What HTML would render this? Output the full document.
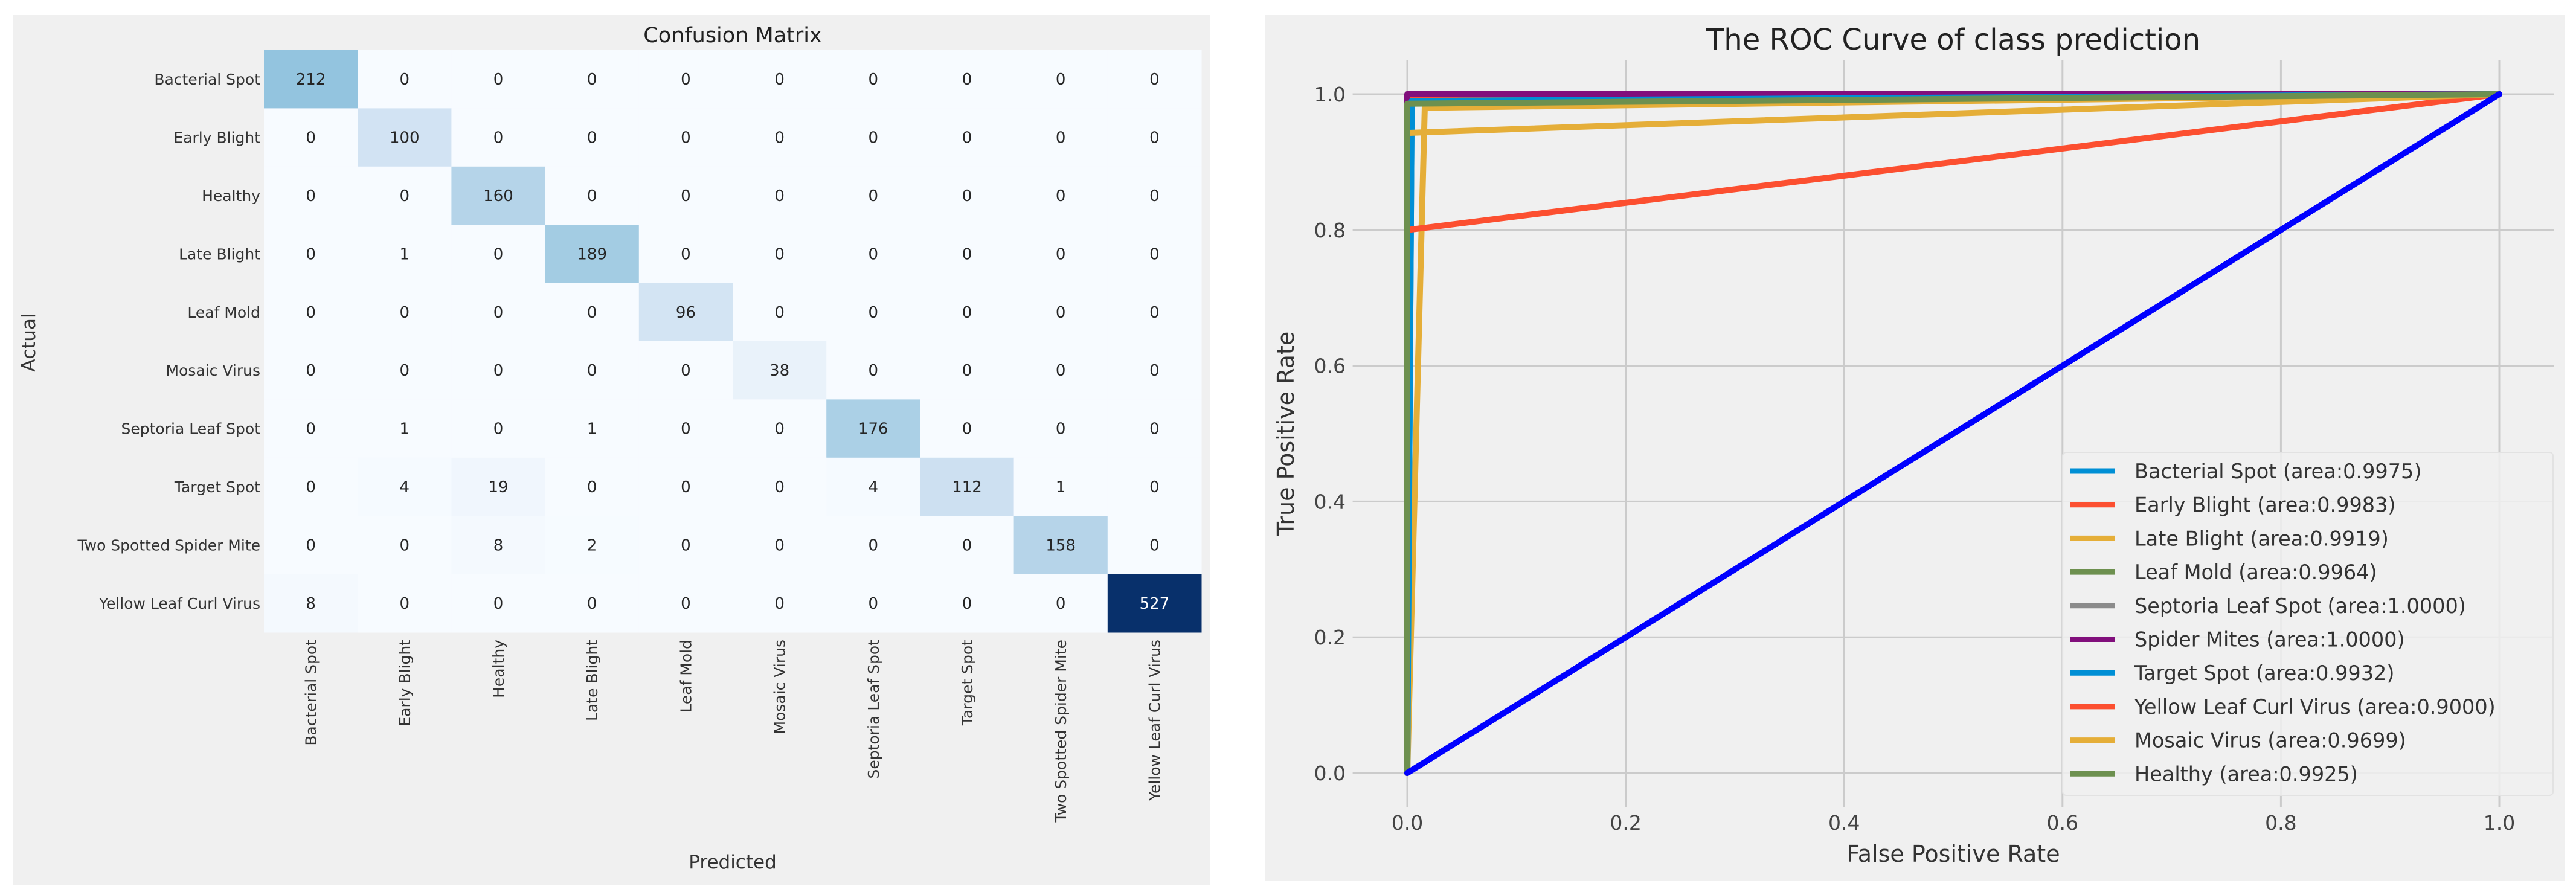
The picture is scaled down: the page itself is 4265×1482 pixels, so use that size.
<!DOCTYPE html>
<html><head><meta charset="utf-8"><style>
html,body{margin:0;padding:0;background:#fff;}
svg{display:block;font-family:"DejaVu Sans","Liberation Sans",sans-serif;}
</style></head><body>
<svg id="fig" xmlns="http://www.w3.org/2000/svg" width="4265" height="1482" viewBox="0 0 4265 1482">
<rect x="0" y="0" width="4265" height="1482" fill="#ffffff"/>
<g id="cm">
<rect x="22" y="25" width="1982" height="1440" fill="#f0f0f0"/>
<text x="1213" y="70" font-size="35" text-anchor="middle" fill="#222">Confusion Matrix</text>
<text x="1213" y="1438" font-size="31" text-anchor="middle" fill="#333">Predicted</text>
<text transform="translate(58,567) rotate(-90)" font-size="31" text-anchor="middle" fill="#333">Actual</text>
<g id="cells"></g>
</g>
<g id="roc">
<rect x="2094" y="25" width="2152" height="1433" fill="#f0f0f0"/>
<text x="3234" y="82" font-size="48" text-anchor="middle" fill="#222">The ROC Curve of class prediction</text>
<text x="3234" y="1427" font-size="38" text-anchor="middle" fill="#333">False Positive Rate</text>
<text transform="translate(2142,718) rotate(-90)" font-size="38" text-anchor="middle" fill="#333">True Positive Rate</text>
<g id="grid"></g>
<g id="curves"></g>
<g id="legend"></g>
</g>
</svg>
<script>
const classes = ["Bacterial Spot","Early Blight","Healthy","Late Blight","Leaf Mold","Mosaic Virus","Septoria Leaf Spot","Target Spot","Two Spotted Spider Mite","Yellow Leaf Curl Virus"];
const matrix = [
[212,0,0,0,0,0,0,0,0,0],
[0,100,0,0,0,0,0,0,0,0],
[0,0,160,0,0,0,0,0,0,0],
[0,1,0,189,0,0,0,0,0,0],
[0,0,0,0,96,0,0,0,0,0],
[0,0,0,0,0,38,0,0,0,0],
[0,1,0,1,0,0,176,0,0,0],
[0,4,19,0,0,0,4,112,1,0],
[0,0,8,2,0,0,0,0,158,0],
[8,0,0,0,0,0,0,0,0,527]];

const rocLabels = ["Bacterial Spot (area:0.9975)","Early Blight (area:0.9983)","Late Blight (area:0.9919)","Leaf Mold (area:0.9964)","Septoria Leaf Spot (area:1.0000)","Spider Mites (area:1.0000)","Target Spot (area:0.9932)","Yellow Leaf Curl Virus (area:0.9000)","Mosaic Virus  (area:0.9699)","Healthy (area:0.9925)"];
const rocColors = ["#008fd5","#fc4f30","#e5ae38","#6d904f","#8b8b8b","#810f7c","#008fd5","#fc4f30","#e5ae38","#6d904f"];
const rocFpr = [[0,0.004,1],[0,0.002,1],[0,0.016,1],[0,0.0,1],[0,0,1],[0,0,1],[0,0.004,1],[0,0,1],[0,0,1],[0,0,1]];
const rocTpr = [[0,0.994,1],[0,0.997,1],[0,0.98,1],[0,0.99,1],[0,1,1],[0,1,1],[0,0.99,1],[0,0.8,1],[0,0.943,1],[0,0.986,1]];
const diagFpr = [0,1];
const diagTpr = [0,1];
const xTicks = [0,0.2,0.4,0.6,0.8,1.0];
const yTicks = [0,0.2,0.4,0.6,0.8,1.0];

const NS = "http://www.w3.org/2000/svg";
function mk(tag, attrs, parent){const e=document.createElementNS(NS,tag);for(const k in attrs)e.setAttribute(k,attrs[k]);parent.appendChild(e);return e;}

const hx0=437,hx1=1989,hy0=83,hy1=1047;
const cw=(hx1-hx0)/classes.length, ch=(hy1-hy0)/classes.length;
const stops=["#f7fbff","#deebf7","#c6dbef","#9ecae1","#6baed6","#4292c6","#2171b5","#08519c","#08306b"];
function hex(c){return [parseInt(c.substr(1,2),16),parseInt(c.substr(3,2),16),parseInt(c.substr(5,2),16)];}
function blues(t){t=Math.max(0,Math.min(1,t));const p=t*8,i=Math.min(7,Math.floor(p)),f=p-i;const a=hex(stops[i]),b=hex(stops[i+1]);return "rgb("+a.map((v,k)=>Math.round(v+(b[k]-v)*f)).join(",")+")";}
let vmax=0;matrix.forEach(r=>r.forEach(v=>{if(v>vmax)vmax=v;}));
const cells=document.getElementById("cells");
matrix.forEach((row,i)=>{
  row.forEach((v,j)=>{
    const r=mk("rect",{x:hx0+j*cw,y:hy0+i*ch,width:cw+0.5,height:ch+0.5,fill:blues(v/vmax)},cells);
    
    
    const t=mk("text",{x:hx0+(j+0.5)*cw,y:hy0+(i+0.5)*ch+9,"font-size":26,"text-anchor":"middle",fill:(v/vmax>0.6)?"#ffffff":"#262626"},cells);
    t.textContent=v;
    
    
  });
});
classes.forEach((c,i)=>{
  const t=mk("text",{x:hx0-6,y:hy0+(i+0.5)*ch+9,"font-size":25,"text-anchor":"end",fill:"#333"},cells);
  t.textContent=c;
  
  
  const cx=hx0+(i+0.5)*cw+9, cy=hy1+12;
  const u=mk("text",{x:0,y:0,"font-size":25,"text-anchor":"end",fill:"#333",transform:"translate("+cx+","+cy+") rotate(-90)"},cells);
  u.textContent=c;
  
  
});

const X0=2330,X1=4138,Y0=1280,Y1=156;
function sx(v){return X0+(X1-X0)*v;}
function sy(v){return Y0+(Y1-Y0)*v;}
const axL=sx(-0.05),axR=sx(1.05),axT=sy(1.05),axB=sy(-0.05);
const grid=document.getElementById("grid");
xTicks.forEach(v=>{
  const l=mk("line",{x1:sx(v),x2:sx(v),y1:axT,y2:axB,stroke:"#cbcbcb","stroke-width":3},grid);
  
  
  const t=mk("text",{x:sx(v),y:1374,"font-size":33,"text-anchor":"middle",fill:"#444"},grid);
  t.textContent=v.toFixed(1);
  
  
});
yTicks.forEach(v=>{
  const l=mk("line",{x1:axL,x2:axR,y1:sy(v),y2:sy(v),stroke:"#cbcbcb","stroke-width":3},grid);
  
  
  const t=mk("text",{x:2228,y:sy(v)+12,"font-size":33,"text-anchor":"end",fill:"#444"},grid);
  t.textContent=v.toFixed(1);
  
  
});
const curves=document.getElementById("curves");
rocLabels.forEach((lab,k)=>{
  const pts=rocFpr[k].map((f,i)=>sx(f)+","+sy(rocTpr[k][i])).join(" ");
  const p=mk("polyline",{points:pts,fill:"none",stroke:rocColors[k],"stroke-width":10,"stroke-linejoin":"round","stroke-linecap":"round"},curves);
  
  
});
const dpts=diagFpr.map((f,i)=>sx(f)+","+sy(diagTpr[i])).join(" ");
const dl=mk("polyline",{points:dpts,fill:"none",stroke:"#0000ff","stroke-width":10,"stroke-linecap":"round"},curves);



const lg=document.getElementById("legend");
const box=mk("rect",{x:3415,y:749,width:812,height:568,rx:6,fill:"#f0f0f0","fill-opacity":0.85,stroke:"#e2e2e2","stroke-width":2},lg);


rocLabels.forEach((lab,k)=>{
  const y=780+k*55.7;
  const l=mk("line",{x1:3428,x2:3502,y1:y,y2:y,stroke:rocColors[k],"stroke-width":9},lg);
  
  
  const t=mk("text",{x:3534,y:y+12,"font-size":33.5,fill:"#333","xml:space":"preserve"},lg);
  t.textContent=lab;
  
  
});
</script>
</body></html>
